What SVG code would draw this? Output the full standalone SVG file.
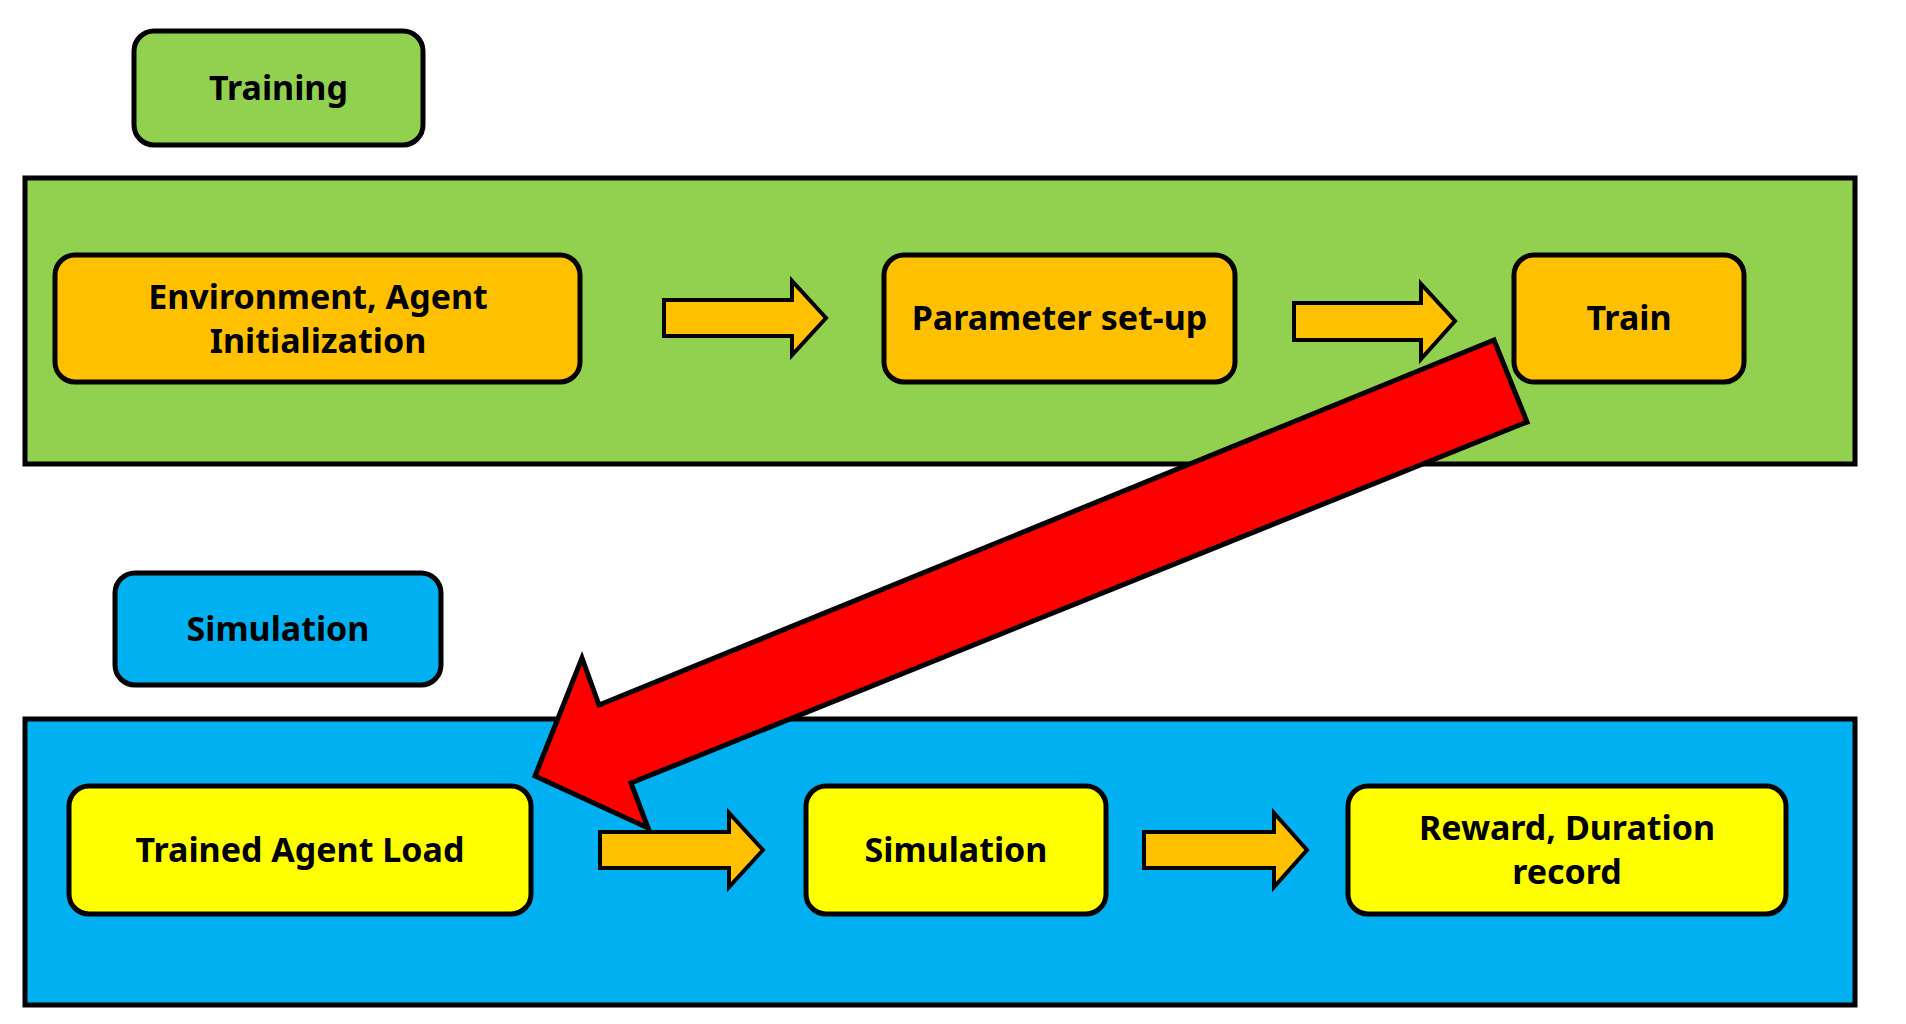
<svg xmlns="http://www.w3.org/2000/svg" width="1906" height="1024" viewBox="0 0 1906 1024">
<style>
.panel{stroke:#000;stroke-width:5}
.node{stroke:#000;stroke-width:5}
.lbl{font-family:"Noto Sans","DejaVu Sans",sans-serif;font-weight:bold;font-size:34px;fill:#000;text-anchor:middle}
.blk{fill:#FFC000;stroke:#000;stroke-width:4;stroke-linejoin:miter}
.red{fill:#FF0000;stroke:#000;stroke-width:5;stroke-linejoin:miter}
</style>
<rect width="1906" height="1024" fill="#fff"/>
<g id="panel-training"><rect class="panel" x="25" y="178" width="1830" height="286" fill="#92D050"/></g>
<g id="panel-simulation"><rect class="panel" x="25" y="719" width="1830" height="286" fill="#00B0F0"/></g>
<g id="label-training"><rect class="node" x="134" y="31" width="289" height="114" rx="20" fill="#92D050"/><text class="lbl" x="278.5" y="100">Training</text></g>
<g id="label-simulation"><rect class="node" x="115" y="573" width="326" height="112" rx="20" fill="#00B0F0"/><text class="lbl" x="278" y="641">Simulation</text></g>
<g id="node-env"><rect class="node" x="55" y="255" width="525" height="127" rx="20" fill="#FFC000"/><text class="lbl" x="318" y="309">Environment, Agent</text><text class="lbl" x="318" y="353">Initialization</text></g>
<g id="node-param"><rect class="node" x="884" y="255" width="351" height="127" rx="20" fill="#FFC000"/><text class="lbl" x="1059.5" y="330">Parameter set-up</text></g>
<g id="node-train"><rect class="node" x="1514" y="255" width="230" height="127" rx="20" fill="#FFC000"/><text class="lbl" x="1629" y="330">Train</text></g>
<g id="node-load"><rect class="node" x="69" y="786" width="462" height="128" rx="20" fill="#FFFF00"/><text class="lbl" x="300" y="862">Trained Agent Load</text></g>
<g id="node-sim"><rect class="node" x="806" y="786" width="300" height="128" rx="20" fill="#FFFF00"/><text class="lbl" x="956" y="862">Simulation</text></g>
<g id="node-reward"><rect class="node" x="1348" y="786" width="438" height="128" rx="20" fill="#FFFF00"/><text class="lbl" x="1567" y="840">Reward, Duration</text><text class="lbl" x="1567" y="884">record</text></g>
<g id="connectors">
<polygon class="blk" points="664,300 792,300 792,281 826,318 792,355 792,336 664,336"/>
<polygon class="blk" points="1294,303 1421,303 1421,284 1455,321 1421,359 1421,340 1294,340"/>
<polygon class="blk" points="600,832 729,832 729,813 763,850 729,887 729,868 600,868"/>
<polygon class="blk" points="1144,832 1274,832 1274,813 1307,850 1274,887 1274,868 1144,868"/>
<polygon class="red" points="1494,340 599,705 582,658 535,776 648,828 631,783 1527,422"/>
</g>
</svg>
